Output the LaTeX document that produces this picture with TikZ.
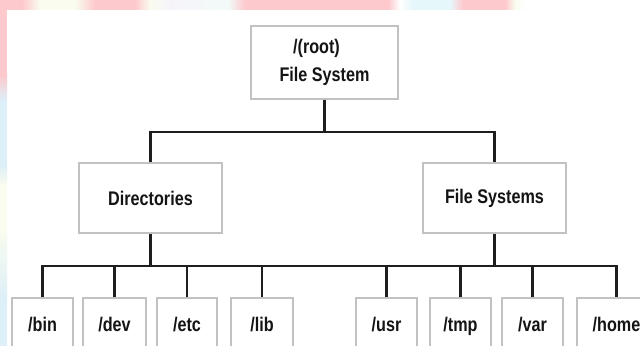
\documentclass[tikz,border=0pt]{standalone}
\usepackage{fontspec}
\newfontfamily\lblfont{Liberation Sans}[FakeStretch=0.82]
\definecolor{pk}{HTML}{FDC9CD}
\definecolor{cr}{HTML}{F9FCEF}
\definecolor{lav}{HTML}{F6F4FA}
\definecolor{cyb}{HTML}{F2FAF9}
\definecolor{cy}{HTML}{E6F7FB}
\definecolor{lb}{HTML}{DDEFF8}
\definecolor{boxgray}{HTML}{C2C2C2}
\definecolor{linedark}{HTML}{1E1E1E}
\begin{document}
\begin{tikzpicture}[x=0.75pt,y=-0.75pt,
  box/.style={draw=boxgray, line width=1pt, fill=white, inner sep=0pt,
    font=\lblfont\bfseries\fontsize{14.8}{21}\selectfont, text=black!92, align=center},
  leaf/.style={box, minimum height=40.5pt, text height=10.6pt, text depth=1.6pt},
  conn/.style={draw=linedark, line width=1.7pt}]
\useasboundingbox (0,0) rectangle (640,346);
\clip (0,0) rectangle (640,346);
\fill[white] (0,0) rectangle (640,346);
% top band
\fill[pk] (0,0) rectangle (22,10);
\shade[left color=pk, right color=cr] (22,0) rectangle (40,10);
\fill[cr] (40,0) rectangle (75,10);
\shade[left color=cr, right color=pk] (75,0) rectangle (95,10);
\fill[pk] (95,0) rectangle (135,10);
\shade[left color=pk, right color=cr] (135,0) rectangle (150,10);
\shade[left color=cr, right color=lav] (150,0) rectangle (170,10);
\shade[left color=lav, right color=cyb] (170,0) rectangle (228,10);
\shade[left color=cyb, right color=pk] (228,0) rectangle (245,10);
\fill[pk] (245,0) rectangle (388,10);
\shade[left color=pk, right color=white] (388,0) rectangle (400,10);
\shade[left color=white, right color=cy] (400,0) rectangle (412,10);
\fill[cy] (412,0) rectangle (450,10);
\shade[left color=cy, right color=pk] (450,0) rectangle (463,10);
\fill[pk] (463,0) rectangle (505,10);
\shade[left color=pk, right color=cr] (505,0) rectangle (515,10);
\shade[left color=cr, right color=white] (515,0) rectangle (527,10);
% left strip
\fill[pk] (0,0) rectangle (7,75);
\shade[top color=pk, bottom color=lb] (0,75) rectangle (7,100);
\fill[lb] (0,100) rectangle (7,165);
\shade[top color=lb, bottom color=cr] (0,165) rectangle (7,185);
\fill[cr] (0,185) rectangle (7,230);
\shade[top color=cr, bottom color=lb] (0,230) rectangle (7,300);
\fill[lb] (0,300) rectangle (7,346);
% nodes
\node[box, minimum width=110.25pt, minimum height=54.75pt] (root) at (324.5,62.5) {/(root)\kern 12pt\\File System};
\node[box, minimum width=107.25pt, minimum height=52.5pt] (dir) at (150.5,198) {\raisebox{-2.5pt}{Directories}};
\node[box, minimum width=107.25pt, minimum height=52.5pt] (fs) at (494.5,198) {File Systems};
\node[leaf, minimum width=45.75pt] (bin) at (42.5,325) {/bin};
\node[leaf, minimum width=47.25pt] (dev) at (114.5,325) {/dev};
\node[leaf, minimum width=45pt] (etc) at (187,325) {/etc};
\node[leaf, minimum width=46.5pt] (lib) at (262,325) {/lib};
\node[leaf, minimum width=45.75pt] (usr) at (386.5,325) {/usr};
\node[leaf, minimum width=45.75pt] (tmp) at (460.5,325) {/tmp};
\node[leaf, minimum width=45.75pt] (var) at (532.5,325) {/var};
\node[leaf, minimum width=59.25pt] (home) at (616.5,325) {/home};
% connectors
\coordinate (j1) at (324.5,132);
\coordinate (j2) at (324.5,266);
\draw[conn] (root.south) -- (j1);
\draw[conn] (dir.north) |- (j1) -| (fs.north);
\draw[conn] (dir.south) -- (dir.south |- j2);
\draw[conn] (fs.south) -- (fs.south |- j2);
\draw[conn] (bin.north) |- (j2) -| (home.north);
\foreach \n in {dev,etc,lib,usr,tmp,var}
  \draw[conn] (\n.north) -- (\n.north |- j2);
\end{tikzpicture}
\end{document}
